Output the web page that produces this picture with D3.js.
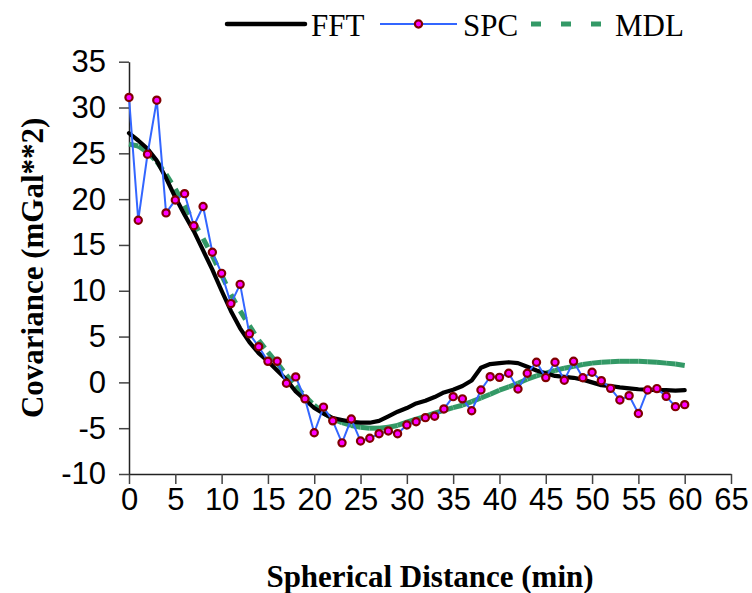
<!DOCTYPE html>
<html>
<head>
<meta charset="utf-8">
<script src="https://cdn.jsdelivr.net/npm/d3@7/dist/d3.min.js"></script>
<style>
  html, body { margin: 0; padding: 0; background: #fff; }
  svg { display: block; }
  .tick text { font-family: "Liberation Sans", Arial, sans-serif; font-size: 31px; fill: #000; }
</style>
</head>
<body>
<svg id="chart" width="752" height="593"></svg>
<script>
// Spherical distance (min) for each sample
const distance = d3.range(0, 61);

// FFT-derived covariance
const fftValues = [
  27.2, 26.4, 25.5, 24.2, 22.3, 20.2, 18.3, 16.5, 14.4, 12.3,
  10.0, 7.8, 5.9, 4.4, 3.2, 2.3, 1.3, 0.3, -1.0, -1.9,
  -2.8, -3.4, -3.9, -4.1, -4.3, -4.4, -4.4, -4.2, -3.7, -3.2,
  -2.8, -2.3, -2.0, -1.6, -1.1, -0.8, -0.4, 0.2, 1.6, 2.0,
  2.1, 2.2, 2.1, 1.7, 1.3, 1.0, 0.7, 0.6, 0.5, 0.3,
  0.0, -0.3, -0.4, -0.55, -0.65, -0.75, -0.8, -0.85, -0.85, -0.9,
  -0.85
];

// Empirical (SPC) covariance
const spcValues = [
  31.1, 17.7, 24.9, 30.8, 18.5, 19.9, 20.6, 17.1, 19.2, 14.2,
  11.9, 8.6, 10.7, 5.3, 3.9, 2.3, 2.3, -0.1, 0.6, -1.8,
  -5.5, -2.7, -4.2, -6.6, -4.0, -6.4, -6.1, -5.6, -5.3, -5.6,
  -4.65, -4.3, -3.85, -3.7, -2.9, -1.56, -1.8, -3.1, -0.83, 0.62,
  0.55, 1.0, -0.72, 1.0, 2.2, 0.52, 2.2, 0.23, 2.3, 0.5,
  1.1, 0.19, -0.65, -1.92, -1.45, -3.4, -0.83, -0.68, -1.52, -2.65,
  -2.43
];

// Fitted model (MDL) covariance
const mdlValues = [
  26.0, 25.8, 25.1, 24.1, 22.7, 21.1, 19.3, 17.5, 15.7, 13.8,
  11.7, 9.6, 7.8, 6.2, 4.6, 3.3, 2.1, 0.8, -0.4, -1.5,
  -2.5, -3.3, -4.0, -4.4, -4.7, -4.9, -5.0, -5.0, -4.9, -4.7,
  -4.35, -4.0, -3.7, -3.35, -3.05, -2.75, -2.5, -2.1, -1.7, -1.3,
  -0.85, -0.5, -0.1, 0.35, 0.7, 1.0, 1.3, 1.55, 1.75, 1.95,
  2.1, 2.2, 2.25, 2.3, 2.3, 2.3, 2.25, 2.2, 2.1, 2.0,
  1.85
];

const xTicks = d3.range(0, 66, 5);
const yTicks = d3.range(-10, 36, 5);
const seriesNames = ["FFT", "SPC", "MDL"];

const colors = { FFT: "#000000", SPC: "#3366ff", MDL: "#339966", markerFill: "#ff00ff", markerStroke: "#800000" };

const svg = d3.select("#chart");

const x = d3.scaleLinear().domain([0, 65]).range([129, 731]);
const y = d3.scaleLinear().domain([-10, 35]).range([474, 61.7]);

// Axes (plain hyphen for negative numbers)
const fmt = d => String(d);
const xAxis = d3.axisBottom(x).tickValues(xTicks).tickFormat(fmt).tickSize(10).tickSizeOuter(0).tickPadding(4);
const yAxis = d3.axisLeft(y).tickValues(yTicks).tickFormat(fmt).tickSize(10).tickSizeOuter(0).tickPadding(13);

const gx = svg.append("g").attr("transform", `translate(0,${y(-10)})`).call(xAxis);
const gy = svg.append("g").attr("transform", `translate(${x(0)},0)`).call(yAxis);
[gx, gy].forEach(g => {
  g.select(".domain").attr("stroke", "#222").attr("stroke-width", 1.5);
  g.selectAll(".tick line").attr("stroke", "#444").attr("stroke-width", 1.5);
});

// Axis titles
const titleFont = "'Liberation Serif', 'Times New Roman', serif";
svg.append("text")
  .attr("x", (x(0) + x(65)) / 2)
  .attr("y", 587)
  .attr("text-anchor", "middle")
  .attr("font-family", titleFont)
  .attr("font-weight", "bold")
  .attr("font-size", 31)
  .text("Spherical Distance (min)");

svg.append("text")
  .attr("transform", `translate(43,${(y(-10) + y(35)) / 2}) rotate(-90)`)
  .attr("text-anchor", "middle")
  .attr("font-family", titleFont)
  .attr("font-weight", "bold")
  .attr("font-size", 31)
  .text("Covariance (mGal**2)");

const plot = svg.append("g");

// MDL: dashed segments, dash pattern restarting on each segment
const mdlPts = distance.map((d, i) => [x(d), y(mdlValues[i])]);
plot.append("g").selectAll("line")
  .data(d3.pairs(mdlPts))
  .join("line")
  .attr("x1", p => p[0][0]).attr("y1", p => p[0][1])
  .attr("x2", p => p[1][0]).attr("y2", p => p[1][1])
  .attr("stroke", colors.MDL)
  .attr("stroke-width", 5)
  .attr("stroke-dasharray", "10,20");

// FFT: thick solid line
const line = d3.line().x(d => x(d[0])).y(d => y(d[1]));
plot.append("path")
  .datum(distance.map((d, i) => [d, fftValues[i]]))
  .attr("d", line)
  .attr("fill", "none")
  .attr("stroke", colors.FFT)
  .attr("stroke-width", 4.2)
  .attr("stroke-linejoin", "round")
  .attr("stroke-linecap", "round");

// SPC: thin line with circle markers
const spcData = distance.map((d, i) => [d, spcValues[i]]);
plot.append("path")
  .datum(spcData)
  .attr("d", line)
  .attr("fill", "none")
  .attr("stroke", colors.SPC)
  .attr("stroke-width", 2);

plot.append("g").selectAll("circle")
  .data(spcData)
  .join("circle")
  .attr("cx", d => x(d[0]))
  .attr("cy", d => y(d[1]))
  .attr("r", 3.6)
  .attr("fill", colors.markerFill)
  .attr("stroke", colors.markerStroke)
  .attr("stroke-width", 2.2);

// Legend
const legend = svg.append("g");
const ly = 24;
const items = [
  { name: seriesNames[0], x0: 227, x1: 305, tx: 311 },
  { name: seriesNames[1], x0: 380, x1: 457, tx: 463 },
  { name: seriesNames[2], x0: 531, x1: 602, tx: 615 }
];
items.forEach(it => {
  if (it.name === "FFT") {
    legend.append("line").attr("x1", it.x0).attr("x2", it.x1).attr("y1", ly).attr("y2", ly)
      .attr("stroke", colors.FFT).attr("stroke-width", 4.5).attr("stroke-linecap", "round");
  } else if (it.name === "SPC") {
    legend.append("line").attr("x1", it.x0).attr("x2", it.x1).attr("y1", ly).attr("y2", ly)
      .attr("stroke", colors.SPC).attr("stroke-width", 2);
    legend.append("circle").attr("cx", (it.x0 + it.x1) / 2).attr("cy", ly).attr("r", 3.6)
      .attr("fill", colors.markerFill).attr("stroke", colors.markerStroke).attr("stroke-width", 2.2);
  } else {
    legend.append("line").attr("x1", it.x0).attr("x2", it.x1).attr("y1", ly).attr("y2", ly)
      .attr("stroke", colors.MDL).attr("stroke-width", 5).attr("stroke-dasharray", "10,20");
  }
  legend.append("text").attr("x", it.tx).attr("y", 36)
    .attr("font-family", titleFont).attr("font-size", 31).text(it.name);
});
</script>
</body>
</html>
